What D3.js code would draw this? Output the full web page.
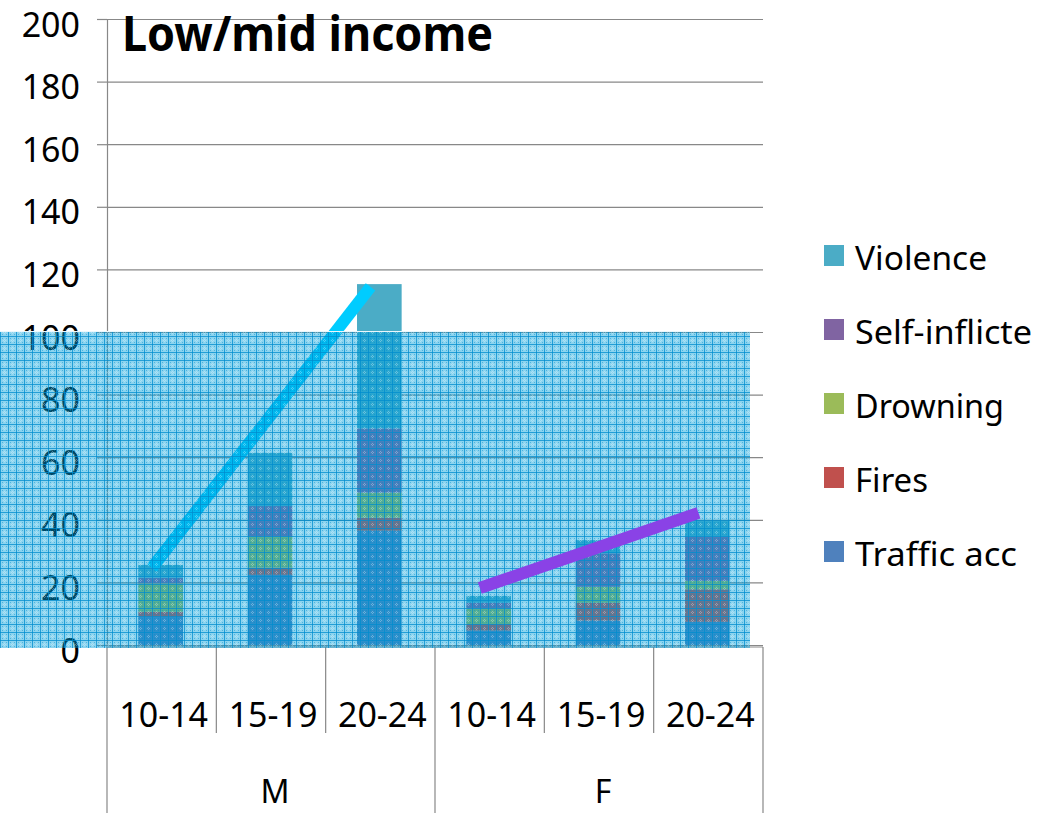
<!DOCTYPE html>
<html>
<head>
<meta charset="utf-8">
<script src="https://cdn.jsdelivr.net/npm/d3@7"></script>
<style>
  body { margin: 0; background: #fff; }
  text { font-family: "Noto Sans", "DejaVu Sans", sans-serif; fill: #000; }
</style>
</head>
<body>
<div id="chart"></div>
<script>
// categories
var groups = ["M", "F"];
var ages = ["10-14", "15-19", "20-24"];
var yTicks = [0, 20, 40, 60, 80, 100, 120, 140, 160, 180, 200];

// series values, order: M 10-14, M 15-19, M 20-24, F 10-14, F 15-19, F 20-24
var traffic  = [9.0, 22.4, 36.5, 4.6, 7.8, 7.4];
var fires    = [1.6, 2.3, 4.2, 2.1, 5.7, 10.4];
var drowning = [9.1, 9.9, 8.0, 5.0, 5.1, 2.7];
var selfInfl = [1.8, 9.8, 20.5, 1.8, 10.7, 14.1];
var violence = [4.1, 17.0, 46.1, 2.2, 4.2, 5.0];

var seriesNames = ["Traffic acc", "Fires", "Drowning", "Self-inflicte", "Violence"];
var seriesColors = ["#4F81BD", "#C0504D", "#9BBB59", "#8064A2", "#4BACC6"];

// hand drawn trend lines (start age, end age, values)
var trendM = [{group: "M", age: "10-14", value: 24.6}, {group: "M", age: "20-24", value: 114.4}];
var trendF = [{group: "F", age: "10-14", value: 18.2}, {group: "F", age: "20-24", value: 42.2}];

// shaded highlight band
var highlight = [0, 100];

var margin = {top: 19, right: 292, bottom: 168, left: 107};
var width = 1055 - margin.left - margin.right;
var height = 813 - margin.top - margin.bottom;

// build table for stacking
var keys = [];
groups.forEach(function(g) { ages.forEach(function(a) { keys.push(g + "|" + a); }); });
var seriesArrays = [traffic, fires, drowning, selfInfl, violence];
var table = keys.map(function(k, i) {
  var row = {key: k};
  seriesNames.forEach(function(s, j) { row[s] = seriesArrays[j][i]; });
  return row;
});
var stacked = d3.stack().keys(seriesNames)(table);

var svg = d3.select("#chart")
  .append("svg")
    .attr("width", 1055)
    .attr("height", 813);

// pattern for the highlight box
var defs = svg.append("defs");
var pat = defs.append("pattern")
  .attr("id", "dots")
  .attr("width", 8).attr("height", 8)
  .attr("patternUnits", "userSpaceOnUse");
pat.append("rect").attr("width", 8).attr("height", 8)
  .attr("fill", "rgb(0,160,221)").attr("fill-opacity", 0.45);
pat.append("rect").attr("x", 0).attr("y", 0).attr("width", 8).attr("height", 1)
  .attr("fill", "rgb(0,140,205)").attr("fill-opacity", 0.75);
pat.append("rect").attr("x", 0).attr("y", 0).attr("width", 1).attr("height", 8)
  .attr("fill", "rgb(0,140,205)").attr("fill-opacity", 0.75);
[[2, 2], [6, 6], [2, 6], [6, 2]].forEach(function(p) {
  pat.append("rect").attr("x", p[0]).attr("y", p[1]).attr("width", 1).attr("height", 1)
    .attr("fill", "rgb(0,140,205)").attr("fill-opacity", 0.45);
});
[[4, 3], [3, 4], [5, 4], [4, 5]].forEach(function(p) {
  pat.append("rect").attr("x", p[0]).attr("y", p[1]).attr("width", 1).attr("height", 1)
    .attr("fill", "#fff").attr("fill-opacity", 0.3);
});

var g = svg.append("g")
  .attr("transform", "translate(" + margin.left + "," + margin.top + ")");

var x = d3.scaleBand().domain(keys).range([0, width]).padding(0);
var xg = d3.scaleBand().domain(groups).range([0, width]).padding(0);
var y = d3.scaleLinear().domain([0, 200]).range([height, 0]);

// gridlines
g.append("g")
  .call(d3.axisLeft(y).tickValues(yTicks).tickSize(-width).tickFormat(""))
  .call(function(s) {
    s.select(".domain").remove();
    s.selectAll("line").attr("stroke", "#888").attr("stroke-width", 1.2);
  });

// y axis with outer ticks
g.append("g")
  .call(d3.axisLeft(y).tickValues(yTicks).tickSize(10).tickPadding(17))
  .call(function(s) {
    s.select(".domain").attr("stroke", "#888").attr("stroke-width", 1.2);
    s.selectAll("line").attr("stroke", "#888").attr("stroke-width", 1.2);
    s.selectAll("text")
      .attr("font-size", 34)
      .attr("font-family", "'Noto Sans', sans-serif")
      .attr("fill", "#000")
      .attr("dy", "0.5em");
  });

// bars
var barW = x.bandwidth() / 2.45;
g.append("g")
  .selectAll("g")
  .data(stacked)
  .enter().append("g")
    .attr("fill", function(d, i) { return seriesColors[i]; })
  .selectAll("rect")
  .data(function(d) { return d; })
  .enter().append("rect")
    .attr("x", function(d) { return x(d.data.key) + x.bandwidth() / 2 - barW / 2 - 1; })
    .attr("y", function(d) { return y(d[1]); })
    .attr("width", barW)
    .attr("height", function(d) { return y(d[0]) - y(d[1]); });

// x axis lines
var xAxisG = g.append("g").attr("transform", "translate(0," + height + ")");
xAxisG.append("line")
  .attr("x1", 0).attr("x2", width).attr("y1", 2).attr("y2", 2)
  .attr("stroke", "#888").attr("stroke-width", 1.2);
var bounds = keys.map(function(k) { return x(k); }).concat([width]);
xAxisG.selectAll(".div")
  .data(bounds)
  .enter().append("line")
    .attr("x1", function(d) { return d; })
    .attr("x2", function(d) { return d; })
    .attr("y1", 2)
    .attr("y2", function(d, i) { return (i % ages.length === 0) ? margin.bottom : 88; })
    .attr("stroke", "#888").attr("stroke-width", 1.2);

xAxisG.selectAll(".age")
  .data(keys)
  .enter().append("text")
    .attr("x", function(k) { return x(k) + x.bandwidth() / 2 + 2; })
    .attr("y", 82)
    .attr("text-anchor", "middle")
    .attr("font-size", 34)
    .text(function(k) { return k.split("|")[1]; });

xAxisG.selectAll(".grp")
  .data(groups)
  .enter().append("text")
    .attr("x", function(gr) { return xg(gr) + xg.bandwidth() / 2 + 4; })
    .attr("y", 158)
    .attr("text-anchor", "middle")
    .attr("font-size", 32)
    .text(function(gr) { return gr; });

// trend lines
var trendX = function(d) { return x(d.group + "|" + d.age) + x.bandwidth() * 0.41; };
var line = d3.line().x(trendX).y(function(d) { return y(d.value); });

g.append("path")
  .datum(trendM)
  .attr("d", line)
  .attr("fill", "none")
  .attr("stroke", "#00CCFF")
  .attr("stroke-width", 12);

// highlight overlay box
svg.append("rect")
  .attr("x", 0)
  .attr("y", margin.top + y(highlight[1]))
  .attr("width", margin.left + width - 13)
  .attr("height", y(highlight[0]) - y(highlight[1]) + 3)
  .attr("fill", "url(#dots)");
svg.append("line")
  .attr("x1", 0).attr("x2", margin.left + width - 13)
  .attr("y1", margin.top + y(highlight[1]) - 0.5)
  .attr("y2", margin.top + y(highlight[1]) - 0.5)
  .attr("stroke", "#eaf7fc").attr("stroke-width", 1);

// female trend sits above the shaded box
var overG = svg.append("g")
  .attr("transform", "translate(" + margin.left + "," + margin.top + ")");
overG.append("path")
  .datum(trendF)
  .attr("d", line)
  .attr("fill", "none")
  .attr("stroke", "#8A42E6")
  .attr("stroke-width", 12);

// title
svg.append("text")
  .attr("x", 122)
  .attr("y", 51)
  .attr("font-size", 48)
  .attr("font-weight", "bold")
  .attr("textLength", 371)
  .attr("lengthAdjust", "spacingAndGlyphs")
  .text("Low/mid income");

// legend (top entry = last series)
var legendItems = seriesNames.slice().reverse();
var legendColors = seriesColors.slice().reverse();
var legendWidths = [132, 177, 149, 73, 162];
var legend = svg.append("g").attr("transform", "translate(824,245)");
legendItems.forEach(function(name, i) {
  var row = legend.append("g").attr("transform", "translate(0," + (i * 74) + ")");
  row.append("rect")
    .attr("width", 20).attr("height", 21)
    .attr("fill", legendColors[i]);
  row.append("text")
    .attr("x", 31)
    .attr("y", 25)
    .attr("font-size", 32)
    .attr("textLength", legendWidths[i])
    .attr("lengthAdjust", "spacingAndGlyphs")
    .text(name);
});
</script>
</body>
</html>
